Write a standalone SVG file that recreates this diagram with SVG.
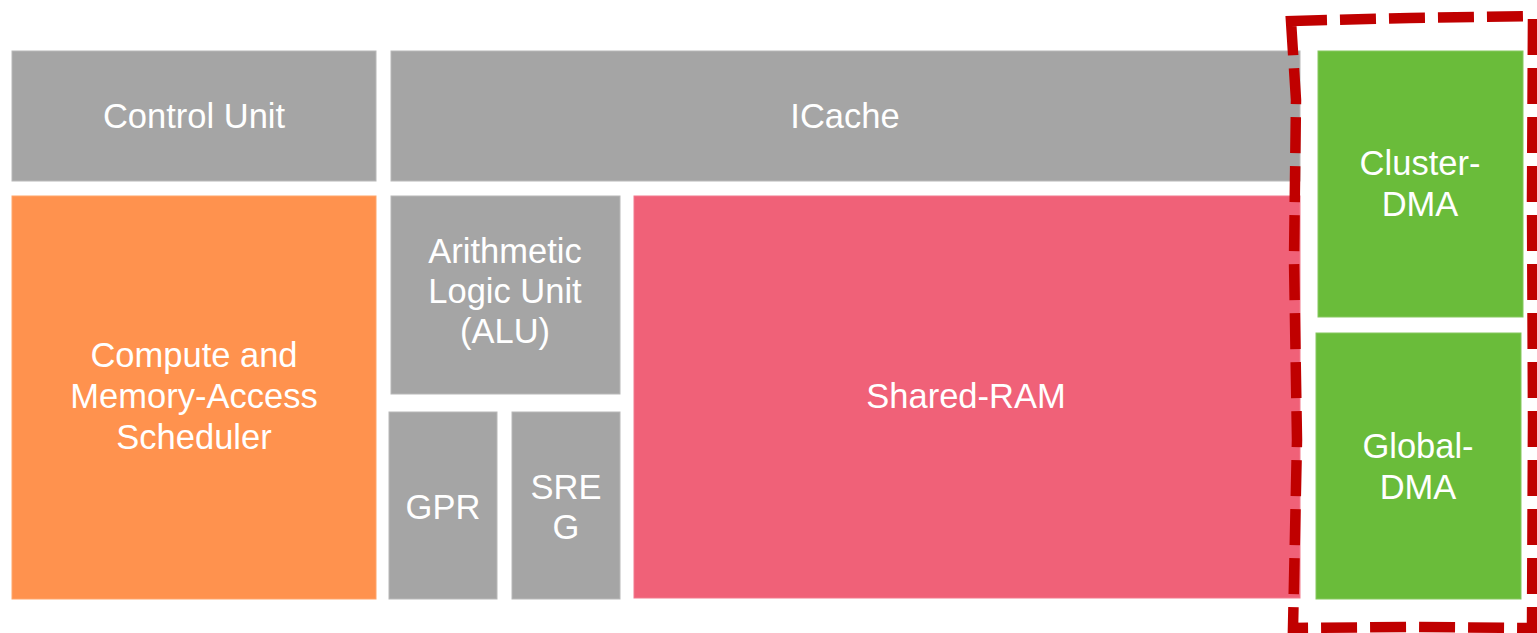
<svg xmlns="http://www.w3.org/2000/svg" width="1537" height="633" viewBox="0 0 1537 633">
  <style>
    .gray { fill: #A5A5A5; stroke: #B8B8B8; stroke-width: 1; }
    .orange { fill: #FF924E; stroke: #FFA56B; stroke-width: 1; }
    .pink { fill: #F06178; stroke: #F27A8D; stroke-width: 1; }
    .green { fill: #6ABC3A; stroke: #86C85E; stroke-width: 1; }
    .lbl { font-family: "Liberation Sans", Arial, Helvetica, sans-serif; font-size: 34.5px; fill: #FFFFFF; text-anchor: middle; }
    .dash { fill: none; stroke: #C00000; stroke-width: 10.5; stroke-dasharray: 36 13; stroke-linejoin: miter; }
  </style>
  <rect width="1537" height="633" fill="#FFFFFF"/>

  <g id="control-unit">
    <rect class="gray" x="12" y="51" width="364" height="130"/>
    <text class="lbl" x="194" y="128">Control Unit</text>
  </g>

  <g id="icache">
    <rect class="gray" x="391" y="51" width="909" height="130"/>
    <text class="lbl" x="845" y="128">ICache</text>
  </g>

  <g id="scheduler">
    <rect class="orange" x="12" y="196" width="364" height="403"/>
    <text class="lbl" x="194" y="367">Compute and</text>
    <text class="lbl" x="194" y="408">Memory-Access</text>
    <text class="lbl" x="194" y="449">Scheduler</text>
  </g>

  <g id="alu">
    <rect class="gray" x="391" y="196" width="229" height="198"/>
    <text class="lbl" x="505" y="263">Arithmetic</text>
    <text class="lbl" x="505" y="303">Logic Unit</text>
    <text class="lbl" x="505" y="343">(ALU)</text>
  </g>

  <g id="gpr">
    <rect class="gray" x="389" y="412" width="108" height="187"/>
    <text class="lbl" x="443" y="519">GPR</text>
  </g>

  <g id="sreg">
    <rect class="gray" x="512" y="412" width="108" height="187"/>
    <text class="lbl" x="566" y="499">SRE</text>
    <text class="lbl" x="566" y="539">G</text>
  </g>

  <g id="shared-ram">
    <rect class="pink" x="634" y="196" width="666" height="402"/>
    <text class="lbl" x="966" y="408">Shared-RAM</text>
  </g>

  <g id="cluster-dma">
    <rect class="green" x="1318" y="51" width="205" height="266"/>
    <text class="lbl" x="1420" y="175">Cluster-</text>
    <text class="lbl" x="1420" y="216">DMA</text>
  </g>

  <g id="global-dma">
    <rect class="green" x="1316" y="333" width="205" height="266"/>
    <text class="lbl" x="1418" y="458">Global-</text>
    <text class="lbl" x="1418" y="499">DMA</text>
  </g>

  <g id="dma-boundary">
    <path class="dash" d="M1291,21 L1410,18 L1533,16 L1532,200 L1533,420 L1532,628 L1410,627 L1293,628 L1297,440 L1294,260 L1296,100 Z"/>
  </g>
</svg>
